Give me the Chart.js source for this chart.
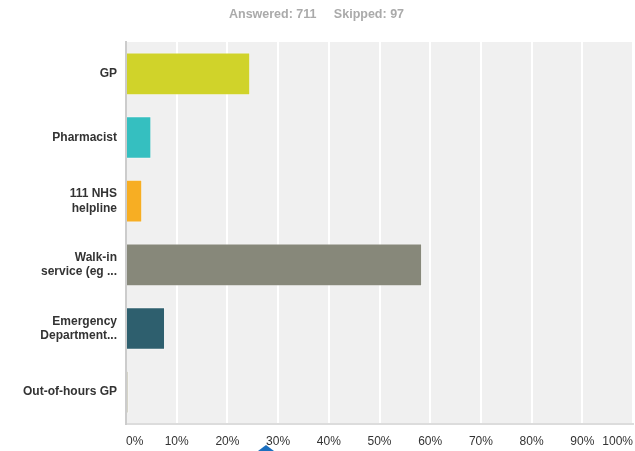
<!DOCTYPE html>
<html>
<head>
<meta charset="utf-8">
<script src="https://cdn.jsdelivr.net/npm/chart.js@4"></script>
<style>
  html, body { margin: 0; padding: 0; background: #fff; }
  #wrap { width: 635px; height: 451px; }
</style>
</head>
<body>
<div id="wrap"><canvas id="chart"></canvas></div>
<script>
const categories = [
    'GP',
    'Pharmacist',
    ['111 NHS', 'helpline'],
    ['Walk-in', 'service (eg ...'],
    ['Emergency', 'Department...'],
    'Out-of-hours GP'
]
const percentages = [24.5, 5.0, 3.2, 58.4, 7.7, 0.6]
const barColors = ['#d0d32a', '#35bfc0', '#f7ae23', '#87887a', '#2e5f6e', '#d5d4c8']
const xTicks = [0, 10, 20, 30, 40, 50, 60, 70, 80, 90, 100]

// fondo gris del area de la grafica
const plotBackground = {
    id: 'plotBackground',
    beforeDraw(chart) {
        const { ctx, chartArea } = chart
        ctx.save()
        ctx.fillStyle = '#f0f0f0'
        ctx.fillRect(chartArea.left, chartArea.top, chartArea.right - chartArea.left, chartArea.bottom - chartArea.top)
        ctx.restore()
    },
    afterDraw(chart) {
        // pequeño marcador azul bajo el eje
        const ctx = chart.ctx
        ctx.save()
        ctx.fillStyle = '#1b6fbf'
        ctx.beginPath()
        ctx.moveTo(258, 451)
        ctx.lineTo(266, 445)
        ctx.lineTo(274, 451)
        ctx.closePath()
        ctx.fill()
        ctx.restore()
    }
}

const ctx = document.getElementById('chart').getContext('2d')

new Chart(ctx, {
    type: 'bar',
    data: {
        labels: categories,
        datasets: [{
            data: percentages,
            backgroundColor: barColors,
            borderColor: 'rgba(255,255,255,0.35)',
            borderWidth: 1,
            barPercentage: 0.67,
            categoryPercentage: 1.0
        }]
    },
    options: {
        indexAxis: 'y',
        responsive: true,
        maintainAspectRatio: false,
        animation: false,
        layout: {
            padding: { left: 0, right: 2, bottom: 0 }
        },
        scales: {
            x: {
                min: 0,
                max: 100,
                afterBuildTicks: (scale) => {
                    scale.ticks = xTicks.map(v => ({ value: v }))
                },
                afterFit: (scale) => {
                    scale.height = 27
                    scale.paddingLeft = 0
                    scale.paddingRight = 0
                },
                ticks: {
                    callback: (v) => v + '%',
                    align: 'inner',
                    color: '#333',
                    padding: 10,
                    font: { family: 'Arial, "Liberation Sans", sans-serif', size: 12 }
                },
                grid: {
                    color: '#ffffff',
                    lineWidth: 2,
                    drawTicks: false
                },
                border: { color: '#dcdcdc', width: 2 }
            },
            y: {
                afterFit: (scale) => { scale.width = 126 },
                ticks: {
                    color: '#333',
                    padding: 9,
                    font: { family: 'Arial, "Liberation Sans", sans-serif', size: 12, weight: 'bold' }
                },
                grid: { display: false, drawTicks: false },
                border: { color: '#cccccc', width: 2 }
            }
        },
        plugins: {
            legend: { display: false },
            tooltip: { enabled: false },
            title: {
                display: true,
                text: 'Answered: 711     Skipped: 97',
                color: '#aaaaaa',
                padding: { top: 7, bottom: 20 },
                font: { family: 'Arial, "Liberation Sans", sans-serif', size: 12.5, weight: 'bold' }
            }
        }
    },
    plugins: [plotBackground]
})
</script>
</body>
</html>
